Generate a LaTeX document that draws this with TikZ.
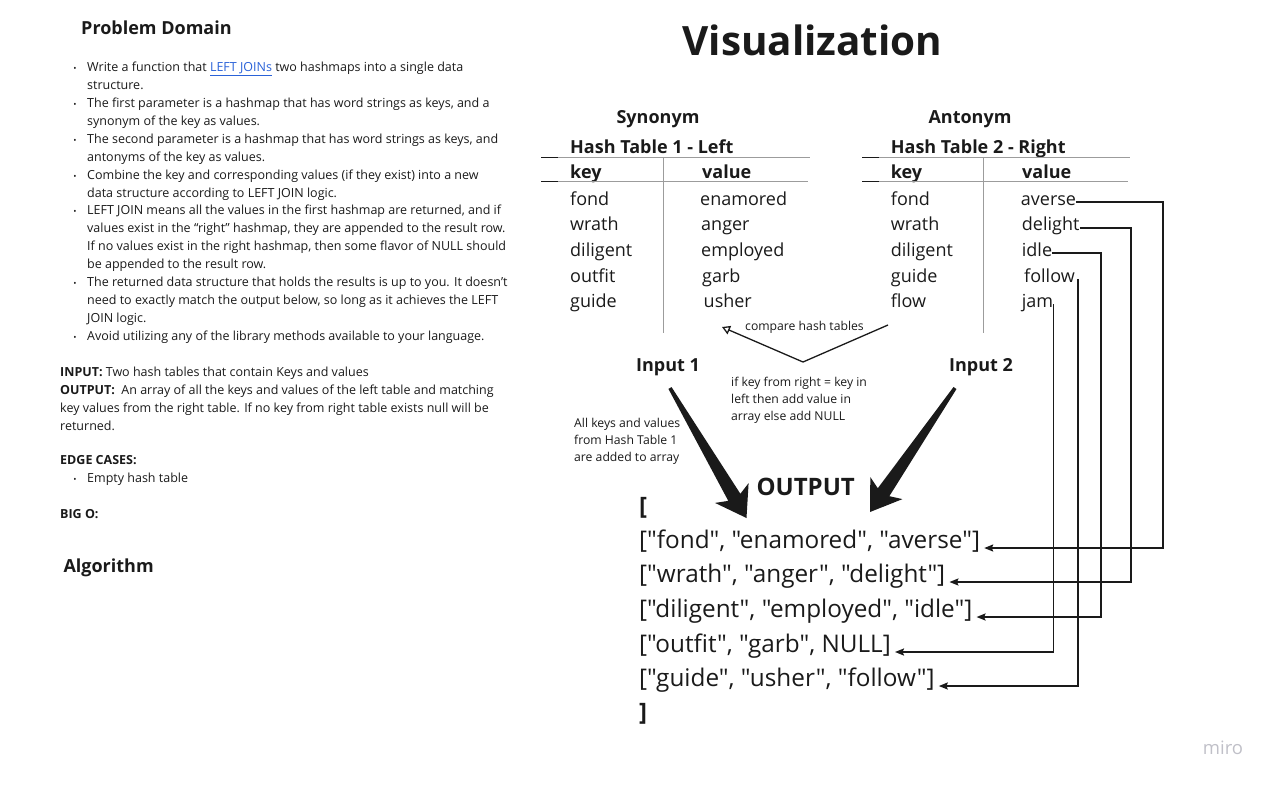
\documentclass[tikz,border=0pt]{standalone}
\usepackage{fontspec}
\setmainfont{Open Sans}[Ligatures=TeXOff]
\usetikzlibrary{calc,arrows.meta}
\definecolor{ink}{HTML}{1A1A1A}
\definecolor{linkblue}{HTML}{2A62D8}
\definecolor{rulegrey}{HTML}{9C9C9C}
\definecolor{mirogrey}{HTML}{C0C0C8}
\newcommand\joinlink[1]{\textcolor{linkblue}{\underline{#1}}}
\newcommand\fatarrow[2]{%
  \coordinate (hb) at ($(#2)!24pt!(#1)$); \coordinate (bb) at ($(#2)!29pt!(#1)$);
  \fill[ink] ($(#1)!1.8pt!90:(#2)$) -- ($(hb)!7pt!90:(#2)$) -- ($(bb)!19.5pt!90:(#2)$) -- (#2)
    -- ($(bb)!19.5pt!-90:(#2)$) -- ($(hb)!7pt!-90:(#2)$) -- ($(#1)!1.8pt!-90:(#2)$) -- cycle;}

\begin{document}
\begin{tikzpicture}[x=1pt,y=-1pt,
  txt/.style={inner sep=0pt,anchor=base west,text=ink},
  small/.style={txt,font=\fontsize{12.5}{15}\selectfont},
  dot/.style={txt,anchor=base,font=\fontsize{8.5}{9}\selectfont},
  note/.style={txt,font=\fontsize{12.2}{14}\selectfont},
  head/.style={txt,font=\fontsize{18}{20}\selectfont\bfseries},
  hcell/.style={txt,font=\fontsize{18}{20}\selectfont\bfseries},
  cell/.style={txt,font=\fontsize{18}{20}\selectfont},
  row/.style={txt,inner xsep=4pt,font=\fontsize{24.3}{27}\selectfont},
  bracket/.style={txt,font=\fontsize{24}{27}\selectfont\bfseries},
  grid/.style={draw=rulegrey,line width=0.8pt},
  link/.style={draw=ink,line width=1.8pt,-{Stealth[length=9pt,width=7pt,inset=1.5pt]}}]
\useasboundingbox (0,0) rectangle (1272,785);

\node[head] (pd) at (81,34.5) {Problem Domain};
\foreach \i/\t in {0/{Write a function that \joinlink{LEFT JOINs} two hashmaps into a single data},1/{structure.},
  2/{The first parameter is a hashmap that has word strings as keys, and a},3/{synonym of the key as values.},
  4/{The second parameter is a hashmap that has word strings as keys, and},5/{antonyms of the key as values.},
  6/{Combine the key and corresponding values (if they exist) into a new},7/{data structure according to LEFT JOIN logic.},
  8/{LEFT JOIN means all the values in the first hashmap are returned, and if},9/{values exist in the “right” hashmap, they are appended to the result row.},
  10/{If no values exist in the right hashmap, then some flavor of NULL should},11/{be appended to the result row.},
  12/{The returned data structure that holds the results is up to you. It doesn’t},13/{need to exactly match the output below, so long as it achieves the LEFT},
  14/{JOIN logic.},15/{Avoid utilizing any of the library methods available to your language.}}
  \node[small] (line\i) at (87,{71.7+17.9*\i}) {\t};
\foreach \i in {0,2,4,6,8,12,15} \node[dot] (dot\i) at (75,{71.7+17.9*\i}) {\textbullet};
\node[small] (inp) at (60,376) {\textbf{INPUT:} Two hash tables that contain Keys and values};
\node[small] (outp) at (60,394) {\textbf{OUTPUT:}\ \ An array of all the keys and values of the left table and matching};
\node[small] (outp2) at (60,412) {key values from the right table. If no key from right table exists null will be};
\node[small] (outp3) at (60,430) {returned.};
\node[small] (edge) at (60,464.3) {\textbf{EDGE CASES:}};
\node[dot] (edot) at (75,482.7) {\textbullet}; \node[small] (empty) at (87,482.7) {Empty hash table};
\node[small] (bigo) at (60,518.3) {\textbf{BIG O:}};
\node[head] (algo) at (63.3,572.7) {Algorithm};

\node[txt,anchor=base,font=\fontsize{40.4}{44}\selectfont\bfseries] (vis) at (812.5,55) {Visualization};

\node[hcell,anchor=base] (syn) at (658,123) {Synonym};
\node[hcell] (ht1) at (570,153) {Hash Table 1 - Left};
\draw[grid] (541,157.5) -- (810,157.5); \draw[ink,line width=1.2pt] (541,157.5) -- (558,157.5);
\node[hcell] (k1) at (570,178.5) {key}; \node[hcell] (v1) at (702,178.5) {value};
\draw[grid] (541,181.7) -- (808,181.7); \draw[ink,line width=1.2pt] (541,181.7) -- (558,181.7);
\draw[grid] (663,157.5) -- (663,333);
\node[cell] (fond1) at (570,205) {fond}; \node[cell] (enamored) at (700,205) {enamored};
\node[cell] (wrath1) at (570,230.5) {wrath}; \node[cell] (anger) at (701,230.5) {anger};
\node[cell] (diligent1) at (570,256) {diligent}; \node[cell] (employed) at (701,256) {employed};
\node[cell] (outfit1) at (570,282) {outfit}; \node[cell] (garb) at (702,282) {garb};
\node[cell] (guide1) at (570,307) {guide}; \node[cell] (usher) at (703.5,307) {usher};

\node[hcell,anchor=base] (ant) at (970,123) {Antonym};
\node[hcell] (ht2) at (890.7,153) {Hash Table 2 - Right};
\draw[grid] (862,157.5) -- (1130,157.5); \draw[ink,line width=1.2pt] (862,157.5) -- (879,157.5);
\node[hcell] (k2) at (890.7,178.5) {key}; \node[hcell] (v2) at (1022,178.5) {value};
\draw[grid] (862,181.7) -- (1128,181.7); \draw[ink,line width=1.2pt] (862,181.7) -- (879,181.7);
\draw[grid] (983,157.5) -- (983,333);
\node[cell] (fond2) at (890.7,205) {fond}; \node[cell] (averse) at (1020.7,205) {averse};
\node[cell] (wrath2) at (890.7,230.5) {wrath}; \node[cell] (delight) at (1021.7,230.5) {delight};
\node[cell] (diligent2) at (890.7,256) {diligent}; \node[cell] (idle) at (1021.7,256) {idle};
\node[cell] (guide2) at (890.7,282) {guide}; \node[cell] (follow) at (1024,282) {follow};
\node[cell] (flow2) at (890.7,307) {flow}; \node[cell] (jam) at (1021.7,307) {jam};

\node[note] (cmp) at (745,330) {compare hash tables};
\coordinate (cmpa) at (888,325); \coordinate (cmpb) at (803,362); \coordinate (cmpc) at (722,327);
\draw[ink,line width=1.3pt,-{Triangle[open,length=8pt,width=9pt]}] (cmpa) -- (cmpb) -- (cmpc);

\node[hcell] (in1) at (636,371.7) {Input 1};
\node[hcell] (in2) at (949,371.7) {Input 2};
\node[note] (rule1) at (731,386.5) {if key from right = key in};
\node[note] (rule2) at (731,403.5) {left then add value in};
\node[note] (rule3) at (731,420.5) {array else add NULL};
\node[note] (all1) at (574,427.5) {All keys and values};
\node[note] (all2) at (574,444) {from Hash Table 1};
\node[note] (all3) at (574,461) {are added to array};

\coordinate (a1s) at (670,388); \coordinate (a1t) at (746.5,518);
\coordinate (a2s) at (955,388); \coordinate (a2t) at (870,512);
\fatarrow{a1s}{a1t}
\fatarrow{a2s}{a2t}

\node[txt,anchor=base,font=\fontsize{24}{26}\selectfont\bfseries] (out) at (805.7,495.7) {OUTPUT};
\node[bracket] (open) at (639,514) {[};
\node[row] (r1) at (635,548) {["fond", "enamored", "averse"]};
\node[row] (r2) at (635,582) {["wrath", "anger", "delight"]};
\node[row] (r3) at (635,617) {["diligent", "employed", "idle"]};
\node[row] (r4) at (635,652) {["outfit", "garb", NULL]};
\node[row] (r5) at (635,686) {["guide", "usher", "follow"]};
\node[bracket] (close) at (639,720) {]};

\draw[link] (averse.mid east) -- ++(87,0) |- (r1.base east);
\draw[link] (delight.mid east) -- ++(51,0) |- (r2.base east);
\draw[link] (idle.mid east) -- ++(49,0) |- (r3.base east);
\draw[link] ([xshift=3pt]follow.mid east) |- (r5.base east);
\draw[link] (jam.mid east) |- (r4.base east);

\node[txt,anchor=base,text=mirogrey,font=\fontsize{18.5}{20}\selectfont] (miro) at (1223,754) {miro};
\end{tikzpicture}
\end{document}
